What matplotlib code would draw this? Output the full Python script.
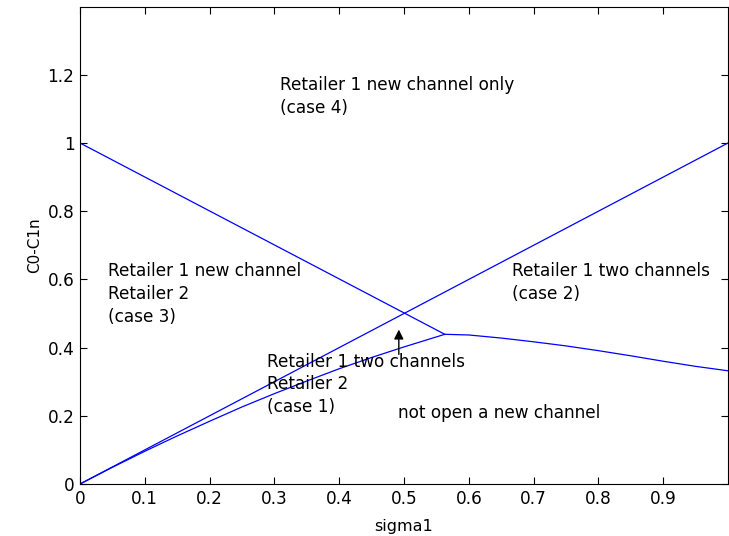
import matplotlib
matplotlib.use("Agg")
import matplotlib.pyplot as plt

plt.rcParams['font.family'] = ['DejaVu Sans']

# boundary curves
sigma_lo = [0, 0.05, 0.1, 0.15, 0.2, 0.25, 0.3, 0.35, 0.4, 0.45, 0.5, 0.563]
c_lo = [0, 0.049, 0.096, 0.141, 0.184, 0.226, 0.265, 0.302, 0.338, 0.371, 0.402, 0.439]
sigma_hi = [0.563, 0.6, 0.65, 0.7, 0.75, 0.8, 0.85, 0.9, 0.95, 1.0]
c_hi = [0.439, 0.437, 0.428, 0.417, 0.405, 0.391, 0.376, 0.36, 0.345, 0.332]
diag_x = [0, 1]
diag_y = [0, 1]
down_x = [0, 0.563]
down_y = [1, 0.439]

xticks = [0, 0.1, 0.2, 0.3, 0.4, 0.5, 0.6, 0.7, 0.8, 0.9]
xticklabels = ['0', '0.1', '0.2', '0.3', '0.4', '0.5', '0.6', '0.7', '0.8', '0.9']
yticks = [0, 0.2, 0.4, 0.6, 0.8, 1.0, 1.2]
yticklabels = ['0', '0.2', '0.4', '0.6', '0.8', '1', '1.2']

case1_lines = ["Retailer 1 two channels", "Retailer 2", "(case 1)"]
case1_y = [0.359, 0.292, 0.227]

fig = plt.figure(figsize=(7.29, 5.36), dpi=100)
ax = fig.add_axes([80/729, 52/536, 648/729, 477.4/536])

col = '#0000ff'
ax.plot(sigma_lo + sigma_hi[1:], c_lo + c_hi[1:], color=col, lw=0.9)
ax.plot(diag_x, diag_y, color=col, lw=0.9)
ax.plot(down_x, down_y, color=col, lw=0.9)

fs = 12.2
ls = 1.33
ax.text(0.309, 1.137, "Retailer 1 new channel only\n(case 4)", fontsize=fs, va='center', linespacing=ls)
ax.text(0.043, 0.557, "Retailer 1 new channel\nRetailer 2\n(case 3)", fontsize=fs, va='center', linespacing=ls)
ax.text(0.667, 0.591, "Retailer 1 two channels\n(case 2)", fontsize=fs, va='center', linespacing=ls)
for line, yy in zip(case1_lines, case1_y):
    ax.text(0.288, yy, line, fontsize=fs, va='center')
ax.text(0.49, 0.209, "not open a new channel", fontsize=fs, va='center')

ax.annotate("", xy=(0.492, 0.461), xytext=(0.492, 0.372),
            arrowprops=dict(arrowstyle='-|>', color='black', lw=1, mutation_scale=14))

ax.set_xlim(0, 1)
ax.set_ylim(0, 1.4)
ax.set_xticks(xticks)
ax.set_xticklabels(xticklabels)
ax.set_yticks(yticks)
ax.set_yticklabels(yticklabels)
ax.tick_params(direction='in', top=True, right=True, labelsize=fs, length=5, pad=4)
ax.set_xlabel("sigma1", fontsize=11.5, labelpad=8)
ax.set_ylabel("C0-C1n", fontsize=11, labelpad=4)

fig.savefig("out.png", dpi=100)
